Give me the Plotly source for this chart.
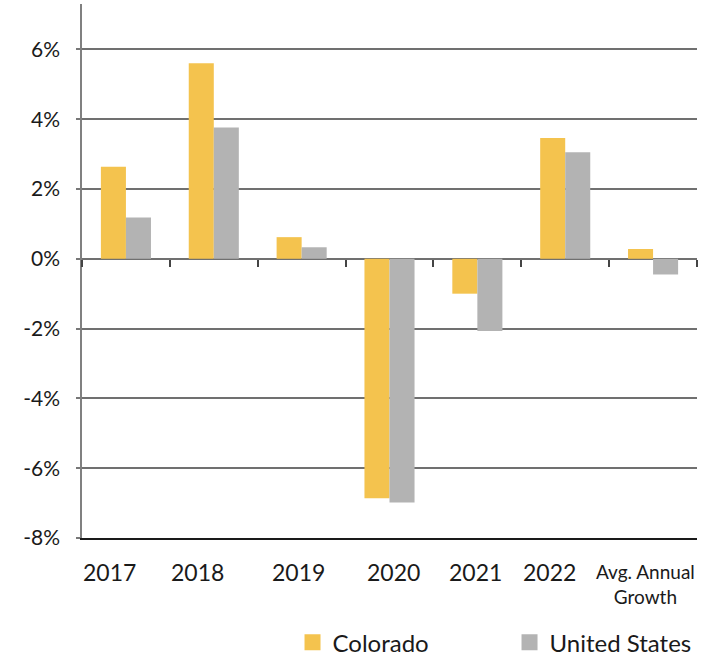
import plotly.graph_objects as go

categories = ["2017", "2018", "2019", "2020", "2021", "2022", "Avg. Annual<br>Growth"]
colorado = [2.64, 5.60, 0.62, -6.86, -1.00, 3.46, 0.28]
united_states = [1.18, 3.76, 0.33, -6.98, -2.07, 3.05, -0.45]
series_names = ["Colorado", "United States"]
y_tick_vals = [-8, -6, -4, -2, 0, 2, 4, 6]
y_tick_text = ["-8%", "-6%", "-4%", "-2%", "0%", "2%", "4%", "6%"]

YELLOW = "#F4C34E"
GRAY = "#B3B3B3"
FONT = "Lato"
y_min, y_max = -8, 7.3

fig = go.Figure()
fig.add_trace(go.Bar(x=categories, y=colorado, name=series_names[0],
                     marker=dict(color=YELLOW, line=dict(width=0)), showlegend=False))
fig.add_trace(go.Bar(x=categories, y=united_states, name=series_names[1],
                     marker=dict(color=GRAY, line=dict(width=0)), showlegend=False))
# legend entries
for nm, col in zip(series_names, [YELLOW, GRAY]):
    fig.add_trace(go.Scatter(x=[None], y=[None], mode="markers", name=nm,
                             marker=dict(symbol="square", size=18, color=col)))
# invisible trace to carry the zero-line boundary ticks
fig.add_trace(go.Scatter(x=categories, y=[0] * len(categories), xaxis="x2", mode="markers",
                         marker=dict(opacity=0), showlegend=False, hoverinfo="skip"))

zero_pos = (0 - y_min) / (y_max - y_min)

label_shifts = [-16.5, -16.7, -3, 3.7, -2.3, -15.7, -8]
annotations = []
for i, (cat, dx) in enumerate(zip(categories, label_shifts)):
    is_multi = "<br>" in cat
    annotations.append(dict(
        x=i, xref="x", y=0, yref="paper", yanchor="top", xanchor="center",
        text=cat, showarrow=False, xshift=dx, yshift=-18 if not is_multi else -20,
        font=dict(family=FONT, size=19 if is_multi else 23, color="#1a1a1a"),
        align="center",
    ))

fig.update_layout(
    width=711, height=658,
    margin=dict(l=82, r=14, t=4, b=120, autoexpand=False),
    paper_bgcolor="white", plot_bgcolor="white",
    barmode="group", bargap=0.43, bargroupgap=0,
    font=dict(family=FONT, color="#1a1a1a"),
    xaxis=dict(type="category", categoryorder="array", categoryarray=categories,
               range=[-0.5, len(categories) - 0.5], automargin=False,
               showticklabels=False, ticks="", showgrid=False,
               showline=True, linecolor="#1a1a1a", linewidth=1.5, zeroline=False),
    xaxis2=dict(type="category", categoryorder="array", categoryarray=categories,
                overlaying="x", anchor="free", position=zero_pos, automargin=False,
                range=[-0.5, len(categories) - 0.5],
                ticks="outside", tickson="boundaries", ticklen=7, tickwidth=1.5,
                tickcolor="#444444", showticklabels=False, showgrid=False,
                showline=False, zeroline=False),
    yaxis=dict(range=[y_min, y_max], tickvals=y_tick_vals, ticktext=y_tick_text,
               automargin=False,
               ticks="outside", ticklen=4, tickwidth=1.5, tickcolor="#777777",
               ticklabelstandoff=12,
               tickfont=dict(family=FONT, size=21, color="#1a1a1a"),
               showgrid=True, gridcolor="#707070", gridwidth=1.5,
               zeroline=True, zerolinecolor="#707070", zerolinewidth=1.5,
               showline=True, linecolor="#808080", linewidth=1.5),
    legend=dict(orientation="h", x=1.048, xanchor="right", y=-0.196, yanchor="middle",
                font=dict(family=FONT, size=24, color="#1a1a1a"),
                entrywidth=172, entrywidthmode="pixels",
                bgcolor="rgba(0,0,0,0)"),
    annotations=annotations,
)

fig.write_html("out.html", config={"displayModeBar": False},
               post_script="document.body.style.margin='0';document.body.style.padding='0';")
